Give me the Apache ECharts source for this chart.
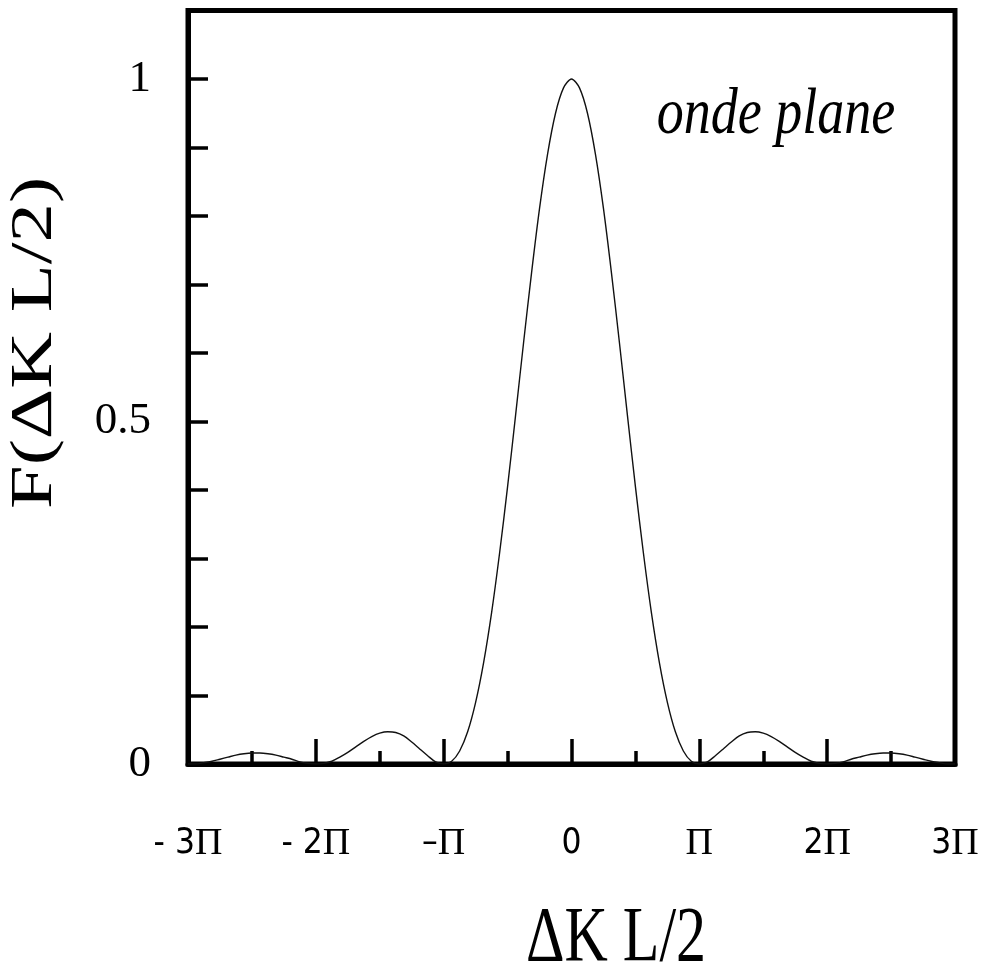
<!DOCTYPE html>
<html>
<head>
<meta charset="utf-8">
<script src="https://cdn.jsdelivr.net/npm/echarts@6/dist/echarts.min.js"></script>
<style>
  html, body { margin: 0; padding: 0; background: #ffffff; }
  #chart { width: 983px; height: 972px; }
</style>
</head>
<body>
<div id="chart"></div>
<script>
// ΔK L/2, expressed in units of π
const xPi = [
  -3, -2.9375, -2.875, -2.8125, -2.75, -2.6875, -2.625, -2.5625,
  -2.5, -2.4375, -2.375, -2.3125, -2.25, -2.1875, -2.125, -2.0625,
  -2, -1.9375, -1.875, -1.8125, -1.75, -1.6875, -1.625, -1.5625,
  -1.5, -1.4375, -1.375, -1.3125, -1.25, -1.1875, -1.125, -1.0625,
  -1, -0.9375, -0.875, -0.8125, -0.75, -0.6875, -0.625, -0.5625,
  -0.5, -0.4375, -0.375, -0.3125, -0.25, -0.1875, -0.125, -0.0625,
  0,
  0.0625, 0.125, 0.1875, 0.25, 0.3125, 0.375, 0.4375, 0.5,
  0.5625, 0.625, 0.6875, 0.75, 0.8125, 0.875, 0.9375, 1,
  1.0625, 1.125, 1.1875, 1.25, 1.3125, 1.375, 1.4375, 1.5,
  1.5625, 1.625, 1.6875, 1.75, 1.8125, 1.875, 1.9375, 2,
  2.0625, 2.125, 2.1875, 2.25, 2.3125, 2.375, 2.4375, 2.5,
  2.5625, 2.625, 2.6875, 2.75, 2.8125, 2.875, 2.9375, 3
];

// F(ΔK L/2) at each abscissa above
const fValues = [
  0, 0.000, 0.002, 0.004, 0.007, 0.010, 0.013, 0.015,
  0.016, 0.016, 0.015, 0.013, 0.010, 0.007, 0.003, 0.001,
  0, 0.001, 0.004, 0.010, 0.017, 0.025, 0.033, 0.040,
  0.045, 0.047, 0.046, 0.041, 0.032, 0.022, 0.012, 0.003,
  0, 0.004, 0.019, 0.047, 0.090, 0.148, 0.221, 0.308,
  0.405, 0.509, 0.615, 0.717, 0.811, 0.890, 0.950, 0.987,
  1,
  0.987, 0.950, 0.890, 0.811, 0.717, 0.615, 0.509, 0.405,
  0.308, 0.221, 0.148, 0.090, 0.047, 0.019, 0.004, 0,
  0.003, 0.012, 0.022, 0.032, 0.041, 0.046, 0.047, 0.045,
  0.040, 0.033, 0.025, 0.017, 0.010, 0.004, 0.001, 0,
  0.001, 0.003, 0.007, 0.010, 0.013, 0.015, 0.016, 0.016,
  0.015, 0.013, 0.010, 0.007, 0.004, 0.002, 0.000, 0
];

const xTickValues = [-3, -2, -1, 0, 1, 2, 3];
const xTickLabels = ['- 3Π', '- 2Π', '–Π', '0', 'Π', '2Π', '3Π'];
const yTickValues = [0, 0.5, 1];
const yTickLabels = ['0', '0.5', '1'];

const xTitle = 'ΔK L/2';
const yTitle = 'F(ΔK L/2)';
const noteText = 'onde plane';

const SERIF = '"Liberation Serif", "DejaVu Serif", serif';
const NARROW = '"Liberation Sans Narrow", "DejaVu Sans Condensed", "Liberation Sans", sans-serif';

const points = xPi.map((x, i) => [x, fValues[i]]);

function xLabel(v) {
  const i = xTickValues.findIndex(t => Math.abs(t - v) < 1e-6);
  if (i < 0) return '';
  return xTickLabels[i].replace('Π', '{p|Π}');
}
function yLabel(v) {
  const i = yTickValues.findIndex(t => Math.abs(t - v) < 1e-6);
  return i < 0 ? '' : yTickLabels[i];
}

const chart = echarts.init(document.getElementById('chart'), null, { renderer: 'canvas' });

chart.setOption({
  animation: false,
  backgroundColor: '#ffffff',
  grid: {
    left: 188, right: 28, top: 10.5, bottom: 208,
    show: true,
    borderColor: '#000',
    borderWidth: 5,
    backgroundColor: 'transparent',
    containLabel: false,
    outerBoundsMode: 'none'
  },
  xAxis: {
    type: 'value',
    min: -3, max: 3, interval: 1,
    axisLine: { show: true, onZero: false, lineStyle: { color: '#000', width: 5 } },
    axisTick: { show: true, inside: true, length: 25, lineStyle: { color: '#000', width: 3.5 } },
    minorTick: { show: true, splitNumber: 2, length: 13, lineStyle: { color: '#000', width: 3.5 } },
    splitLine: { show: false },
    minorSplitLine: { show: false },
    axisLabel: {
      show: true,
      margin: 61,
      color: '#000',
      fontFamily: NARROW,
      fontSize: 35,
      lineHeight: 38,
      showMinLabel: true,
      showMaxLabel: true,
      formatter: xLabel,
      rich: {
        p: { fontFamily: SERIF, fontSize: 38, lineHeight: 38, color: '#000' }
      }
    }
  },
  yAxis: {
    type: 'value',
    min: 0, max: 1.1, interval: 0.1,
    axisLine: { show: true, onZero: false, lineStyle: { color: '#000', width: 5 } },
    axisTick: { show: true, inside: true, length: 20, lineStyle: { color: '#000', width: 3.5 } },
    splitLine: { show: false },
    axisLabel: {
      show: true,
      margin: 37,
      color: '#000',
      fontFamily: SERIF,
      fontSize: 45,
      showMinLabel: true,
      showMaxLabel: true,
      formatter: yLabel
    }
  },
  series: [{
    type: 'line',
    data: points,
    showSymbol: false,
    smooth: 0.3,
    clip: true,
    lineStyle: { color: '#111', width: 1.4 },
    silent: true
  }],
  graphic: [
    {
      type: 'text',
      x: 616, y: 939,
      scaleY: 1.31,
      style: {
        text: xTitle, font: '60px ' + SERIF, fill: '#000',
        align: 'center', verticalAlign: 'middle',
        textAlign: 'center', textVerticalAlign: 'middle'
      }
    },
    {
      type: 'text',
      x: 35, y: 343,
      rotation: Math.PI / 2,
      scaleX: 1.31,
      style: {
        text: yTitle, font: '60px ' + SERIF, fill: '#000',
        align: 'center', verticalAlign: 'middle',
        textAlign: 'center', textVerticalAlign: 'middle'
      }
    },
    {
      type: 'text',
      x: 776, y: 116,
      scaleY: 1.22,
      style: {
        text: noteText, font: 'italic 54px ' + SERIF, fill: '#000',
        align: 'center', verticalAlign: 'middle',
        textAlign: 'center', textVerticalAlign: 'middle'
      }
    }
  ]
});
</script>
</body>
</html>
